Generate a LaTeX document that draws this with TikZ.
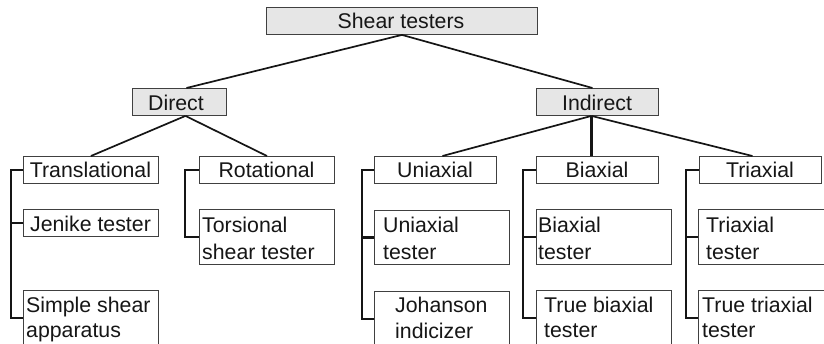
\documentclass[tikz,border=0pt]{standalone}
\usepackage{fontspec}
\setmainfont{Liberation Sans}
\definecolor{boxc}{HTML}{404040}
\definecolor{headfill}{HTML}{E6E6E6}
\definecolor{txt}{HTML}{161616}
\definecolor{lnc}{HTML}{151515}
\tikzset{
  box/.style={draw=boxc, line width=0.9pt, rectangle, inner sep=0pt, anchor=north west, fill=white},
  head/.style={box, fill=headfill},
  clbl/.style={anchor=base, inner sep=0pt, font=\fontsize{21.3}{27}\selectfont, text=txt},
  mlbl/.style={anchor=north west, inner sep=0pt, align=left, font=\fontsize{21.3}{27}\selectfont, text=txt},
  mlblb/.style={mlbl, font=\fontsize{21.3}{25.5}\selectfont},
  conn/.style={line width=1.7pt, draw=lnc},
  brk/.style={line width=2.3pt, draw=lnc, line join=miter},
}
\newcommand{\fst}{\rule{0pt}{16pt}}
\begin{document}
\begin{tikzpicture}[x=1pt,y=-1pt]
\useasboundingbox (0,0) rectangle (824,343);
\clip (0,0) rectangle (824,343);
% boxes
\node[head, minimum width=271pt, minimum height=27pt] (st) at (266,7) {};
\node[head, minimum width=94pt, minimum height=27pt] (direct) at (132,88) {};
\node[head, minimum width=122pt, minimum height=27pt] (indirect) at (536,88) {};
\node[box, minimum width=135pt, minimum height=27pt] (trans) at (23,156) {};
\node[box, minimum width=135pt, minimum height=27pt] (rot) at (199,156) {};
\node[box, minimum width=122pt, minimum height=27pt] (uni) at (374,156) {};
\node[box, minimum width=122pt, minimum height=27pt] (bi) at (536,156) {};
\node[box, minimum width=122pt, minimum height=27pt] (tri) at (699,156) {};
\node[box, minimum width=135pt, minimum height=27pt] (jen) at (23,209) {};
\node[box, minimum width=135pt, minimum height=55pt] (tors) at (199,209) {};
\node[box, minimum width=135pt, minimum height=55pt] (simp) at (23,290) {};
\node[box, minimum width=135pt, minimum height=54pt] (unit) at (374,210) {};
\node[box, minimum width=135pt, minimum height=55pt] (joh) at (374,291) {};
\node[box, minimum width=135pt, minimum height=55pt] (bit) at (536,209) {};
\node[box, minimum width=135pt, minimum height=55pt] (tbit) at (536,290) {};
\node[box, minimum width=140pt, minimum height=55pt] (trit) at (698,209) {};
\node[box, minimum width=140pt, minimum height=55pt] (ttrit) at (698,290) {};
% texts
\node[clbl] (stT) at (401,28) {Shear testers};
\node[clbl] (directT) at (176,110) {Direct};
\node[clbl] (indirectT) at (597,110) {Indirect};
\node[clbl] (transT) at (90.5,177) {Translational};
\node[clbl] (rotT) at (266.5,177) {Rotational};
\node[clbl] (uniT) at (435,177) {Uniaxial};
\node[clbl] (biT) at (597,177) {Biaxial};
\node[clbl] (triT) at (760,177) {Triaxial};
\node[clbl] (jenT) at (90.5,231) {Jenike tester};
\node[mlbl] (torsT) at (202,216) {\fst Torsional\\shear tester};
\node[mlblb] (simpT) at (26,296) {\fst Simple shear\\apparatus};
\node[mlbl] (unitT) at (383,216) {\fst Uniaxial\\tester};
\node[mlblb] (johT) at (395,296.5) {\fst Johanson\\indicizer};
\node[mlbl] (bitT) at (538,216) {\fst Biaxial\\tester};
\node[mlblb] (tbitT) at (544,296) {\fst True biaxial\\tester};
\node[mlbl] (tritT) at (706,216) {\fst Triaxial\\tester};
\node[mlblb] (ttritT) at (702,296) {\fst True triaxial\\tester};
% connection points
\coordinate (dtop) at ([xshift=7pt]direct.north);
\coordinate (dbot) at ([xshift=6pt]direct.south);
\coordinate (itop) at ([xshift=-5pt]indirect.north);
\coordinate (ibot) at ([xshift=-6pt]indirect.south);
\coordinate (utop) at ([xshift=7pt]uni.north);
\coordinate (btop) at ([xshift=-6pt]bi.north);
\coordinate (ttop) at ([xshift=-8pt]tri.north);
% connectors
\draw[conn] (st.south) -- (dtop);
\draw[conn] (st.south) -- (itop);
\draw[conn] (dbot) -- (trans.north);
\draw[conn] (dbot) -- (rot.north);
\draw[conn] (ibot) -- (utop);
\draw[conn, line width=2.3pt] (ibot) -- (btop);
\draw[conn] (ibot) -- (ttop);
% brackets
\draw[brk] (trans.west) -- ++(-12,0) |- (simp.west);
\draw[brk] (jen.west) -- ++(-12,0);
\draw[brk] (rot.west) -- ++(-14,0) |- (tors.west);
\draw[brk] (uni.west) -- ++(-12,0) |- (joh.west);
\draw[brk] (unit.west) -- ++(-12,0);
\draw[brk] (bi.west) -- ++(-13,0) |- (tbit.west);
\draw[brk] (bit.west) -- ++(-13,0);
\draw[brk] (tri.west) -- ++(-13,0) |- (ttrit.west);
\draw[brk] (trit.west) -- ++(-12,0);
\end{tikzpicture}
\end{document}
